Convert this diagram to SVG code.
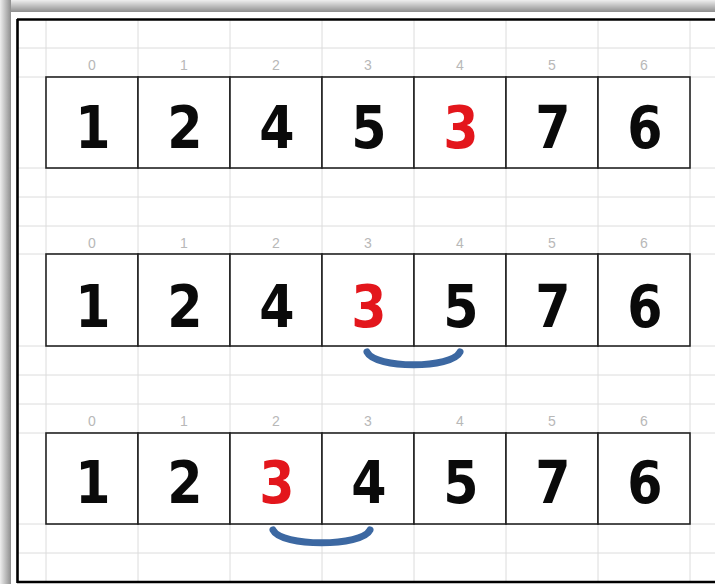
<svg xmlns="http://www.w3.org/2000/svg" width="715" height="584" viewBox="0 0 715 584">
<defs>
<linearGradient id="gTop" x1="0" y1="0" x2="0" y2="1">
<stop offset="0" stop-color="#eeeeee"/><stop offset="1" stop-color="#8e8e8e"/>
</linearGradient>
<linearGradient id="gLeft" x1="0" y1="0" x2="1" y2="0">
<stop offset="0" stop-color="#eeeeee"/><stop offset="1" stop-color="#8e8e8e"/>
</linearGradient>
<style>
.grid{stroke:#dcdcdc;stroke-width:1;fill:none}
.cell rect{fill:#ffffff;stroke:#222222;stroke-width:1.6}
.num{font-family:"DejaVu Sans",sans-serif;font-weight:bold;font-size:59px;text-anchor:middle;fill:#0a0a0a;transform-box:fill-box;transform-origin:center;transform:scaleX(0.86)}
.red{fill:#e3161c}
.idx{font-family:"Liberation Sans",Arial,sans-serif;font-size:14px;text-anchor:middle;fill:#b8b8b8}
.arc{fill:none;stroke:#3c68a2;stroke-width:7;stroke-linecap:round}
.frame{stroke:#000000;stroke-width:2.6;fill:none}
</style>
</defs>
<rect x="0" y="0" width="715" height="584" fill="#ffffff"/>
<rect x="0" y="0" width="715" height="12" fill="url(#gTop)"/>
<rect x="0" y="0" width="11" height="584" fill="url(#gLeft)"/>
<rect x="11" y="12" width="704" height="572" fill="#ffffff"/>
<g id="gridlines" class="grid">
<path d="M46,20V581 M138,20V581 M230,20V581 M322,20V581 M414,20V581 M506,20V581 M598,20V581 M690,20V581"/>
<path d="M17,48H715 M17,77H715 M17,168H715 M17,197H715 M17,226H715 M17,254H715 M17,346H715 M17,375H715 M17,404H715 M17,433H715 M17,524H715 M17,553H715"/>
</g>
<g id="frame">
<path class="frame" d="M17,19.5H715 M17.5,19V583 M17,582H715"/>
</g>
<g id="indices1">
<text class="idx" x="92" y="70">0</text><text class="idx" x="184" y="70">1</text><text class="idx" x="276" y="70">2</text><text class="idx" x="368" y="70">3</text><text class="idx" x="460" y="70">4</text><text class="idx" x="552" y="70">5</text><text class="idx" x="644" y="70">6</text>
</g>
<g id="indices2">
<text class="idx" x="92" y="248">0</text><text class="idx" x="184" y="248">1</text><text class="idx" x="276" y="248">2</text><text class="idx" x="368" y="248">3</text><text class="idx" x="460" y="248">4</text><text class="idx" x="552" y="248">5</text><text class="idx" x="644" y="248">6</text>
</g>
<g id="indices3">
<text class="idx" x="92" y="426">0</text><text class="idx" x="184" y="426">1</text><text class="idx" x="276" y="426">2</text><text class="idx" x="368" y="426">3</text><text class="idx" x="460" y="426">4</text><text class="idx" x="552" y="426">5</text><text class="idx" x="644" y="426">6</text>
</g>
<g id="row1">
<g id="r1c0" class="cell"><rect x="46" y="77" width="92" height="91"/><text class="num" x="93" y="148">1</text></g>
<g id="r1c1" class="cell"><rect x="138" y="77" width="92" height="91"/><text class="num" x="185" y="148">2</text></g>
<g id="r1c2" class="cell"><rect x="230" y="77" width="92" height="91"/><text class="num" x="277" y="148">4</text></g>
<g id="r1c3" class="cell"><rect x="322" y="77" width="92" height="91"/><text class="num" x="369" y="148">5</text></g>
<g id="r1c4" class="cell"><rect x="414" y="77" width="92" height="91"/><text class="num red" x="461" y="148">3</text></g>
<g id="r1c5" class="cell"><rect x="506" y="77" width="92" height="91"/><text class="num" x="553" y="148">7</text></g>
<g id="r1c6" class="cell"><rect x="598" y="77" width="92" height="91"/><text class="num" x="645" y="148">6</text></g>
</g>
<g id="row2">
<g id="r2c0" class="cell"><rect x="46" y="254" width="92" height="92"/><text class="num" x="93" y="327">1</text></g>
<g id="r2c1" class="cell"><rect x="138" y="254" width="92" height="92"/><text class="num" x="185" y="327">2</text></g>
<g id="r2c2" class="cell"><rect x="230" y="254" width="92" height="92"/><text class="num" x="277" y="327">4</text></g>
<g id="r2c3" class="cell"><rect x="322" y="254" width="92" height="92"/><text class="num red" x="369" y="327">3</text></g>
<g id="r2c4" class="cell"><rect x="414" y="254" width="92" height="92"/><text class="num" x="461" y="327">5</text></g>
<g id="r2c5" class="cell"><rect x="506" y="254" width="92" height="92"/><text class="num" x="553" y="327">7</text></g>
<g id="r2c6" class="cell"><rect x="598" y="254" width="92" height="92"/><text class="num" x="645" y="327">6</text></g>
</g>
<g id="row3">
<g id="r3c0" class="cell"><rect x="46" y="433" width="92" height="91"/><text class="num" x="93" y="503">1</text></g>
<g id="r3c1" class="cell"><rect x="138" y="433" width="92" height="91"/><text class="num" x="185" y="503">2</text></g>
<g id="r3c2" class="cell"><rect x="230" y="433" width="92" height="91"/><text class="num red" x="277" y="503">3</text></g>
<g id="r3c3" class="cell"><rect x="322" y="433" width="92" height="91"/><text class="num" x="369" y="503">4</text></g>
<g id="r3c4" class="cell"><rect x="414" y="433" width="92" height="91"/><text class="num" x="461" y="503">5</text></g>
<g id="r3c5" class="cell"><rect x="506" y="433" width="92" height="91"/><text class="num" x="553" y="503">7</text></g>
<g id="r3c6" class="cell"><rect x="598" y="433" width="92" height="91"/><text class="num" x="645" y="503">6</text></g>
</g>
<g id="connectors">
<path class="arc" d="M367,352 C375,369 452,369 460,352"/>
<path class="arc" d="M273,530 C281,547 362,547 370,530"/>
</g>
</svg>
